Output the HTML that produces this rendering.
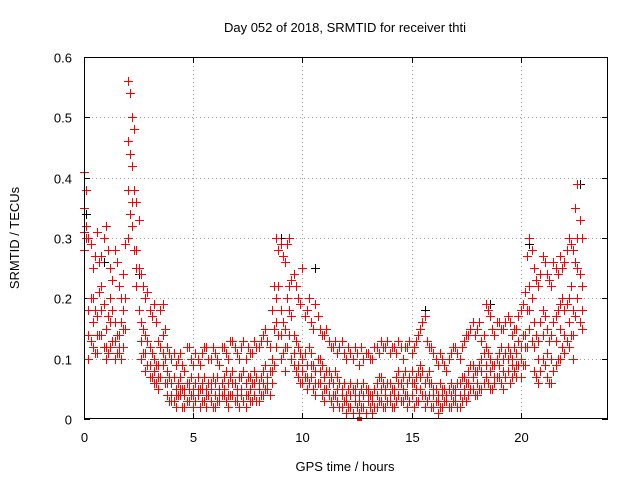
<!DOCTYPE html>
<html><head><meta charset="utf-8"><style>
body{margin:0;background:#fff;}
svg{display:block;font-family:"Liberation Sans",sans-serif;}
</style></head><body>
<svg id="chart" width="640" height="480" viewBox="0 0 640 480">
<rect width="640" height="480" fill="#fff"/>
<text x="345" y="32" font-size="13" text-anchor="middle">Day 052 of 2018, SRMTID for receiver thti</text>
<text x="0" y="0" font-size="13" text-anchor="middle" transform="translate(19,238) rotate(-90)">SRMTID / TECUs</text>
<text x="345" y="471" font-size="13" text-anchor="middle">GPS time / hours</text>
<g id="grid"></g>
<g id="axes"></g>
<g id="marks"></g>
<rect x="84.5" y="57.5" width="523" height="361" fill="none" stroke="#000" stroke-width="1" shape-rendering="crispEdges"/>
</svg>
<script>
const xTicks=[0,5,10,15,20];
const yTicks=[0,0.1,0.2,0.3,0.4,0.5,0.6];
const yTickLabels=["0","0.1","0.2","0.3","0.4","0.5","0.6"];
const times=[0,0.2,0.4,0.6,0.8,1,1.2,1.4,1.6,1.8,2,2.2,2.4,2.6,2.8,3,3.2,3.4,3.6,3.8,4,4.2,4.4,4.6,4.8,5,5.2,5.4,5.6,5.8,6,6.2,6.4,6.6,6.8,7,7.2,7.4,7.6,7.8,8,8.2,8.4,8.6,8.8,9,9.2,9.4,9.6,9.8,10,10.2,10.4,10.6,10.8,11,11.2,11.4,11.6,11.8,12,12.2,12.4,12.6,12.8,13,13.2,13.4,13.6,13.8,14,14.2,14.4,14.6,14.8,15,15.2,15.4,15.6,15.8,16,16.2,16.4,16.6,16.8,17,17.2,17.4,17.6,17.8,18,18.2,18.4,18.6,18.8,19,19.2,19.4,19.6,19.8,20,20.2,20.4,20.6,20.8,21,21.2,21.4,21.6,21.8,22,22.2,22.4,22.6,22.8];
const seriesHigh=[0.41,0.30,0.25,0.31,0.27,0.32,0.25,0.28,0.22,0.24,0.56,0.50,0.36,0.24,0.20,0.18,0.19,0.13,0.19,0.12,0.10,0.09,0.11,0.08,0.12,0.09,0.10,0.11,0.12,0.10,0.11,0.09,0.12,0.10,0.13,0.11,0.12,0.10,0.11,0.13,0.12,0.14,0.13,0.18,0.30,0.29,0.26,0.30,0.24,0.20,0.25,0.18,0.16,0.19,0.15,0.14,0.13,0.12,0.11,0.13,0.10,0.11,0.12,0.09,0.10,0.11,0.10,0.12,0.13,0.12,0.11,0.12,0.13,0.10,0.12,0.11,0.13,0.15,0.17,0.12,0.11,0.09,0.10,0.08,0.11,0.12,0.10,0.13,0.14,0.16,0.15,0.13,0.19,0.17,0.14,0.16,0.15,0.17,0.14,0.15,0.18,0.21,0.30,0.25,0.22,0.27,0.24,0.22,0.25,0.27,0.26,0.30,0.28,0.39,0.30];
const seriesMid=[0.35,0.18,0.20,0.17,0.22,0.15,0.20,0.16,0.14,0.18,0.46,0.42,0.28,0.16,0.14,0.12,0.10,0.09,0.14,0.08,0.06,0.05,0.07,0.05,0.06,0.05,0.07,0.06,0.05,0.06,0.06,0.05,0.07,0.06,0.08,0.05,0.07,0.06,0.07,0.08,0.06,0.08,0.07,0.10,0.20,0.18,0.15,0.22,0.14,0.12,0.10,0.09,0.11,0.08,0.10,0.07,0.08,0.06,0.07,0.05,0.04,0.06,0.05,0.04,0.06,0.05,0.04,0.06,0.07,0.05,0.06,0.05,0.08,0.07,0.06,0.08,0.07,0.09,0.06,0.08,0.05,0.04,0.05,0.04,0.06,0.05,0.06,0.07,0.08,0.09,0.08,0.10,0.12,0.10,0.09,0.11,0.10,0.12,0.10,0.11,0.12,0.14,0.22,0.16,0.13,0.18,0.15,0.14,0.17,0.19,0.18,0.20,0.18,0.30,0.22];
const seriesMidLow=[0.31,0.14,0.16,0.14,0.18,0.12,0.16,0.13,0.12,0.15,0.38,0.36,0.25,0.13,0.11,0.09,0.08,0.07,0.11,0.06,0.04,0.04,0.05,0.04,0.05,0.04,0.05,0.05,0.04,0.05,0.04,0.04,0.05,0.04,0.06,0.04,0.05,0.04,0.05,0.06,0.05,0.06,0.06,0.08,0.16,0.14,0.12,0.18,0.11,0.09,0.08,0.07,0.09,0.06,0.08,0.05,0.06,0.04,0.05,0.04,0.03,0.04,0.04,0.03,0.04,0.04,0.03,0.04,0.05,0.04,0.04,0.04,0.06,0.05,0.04,0.06,0.05,0.07,0.04,0.06,0.04,0.03,0.04,0.03,0.04,0.04,0.04,0.05,0.06,0.07,0.06,0.08,0.09,0.08,0.07,0.09,0.08,0.10,0.09,0.09,0.10,0.12,0.18,0.12,0.10,0.14,0.11,0.10,0.13,0.15,0.14,0.16,0.14,0.25,0.18];
const seriesLow=[0.28,0.10,0.12,0.11,0.14,0.10,0.12,0.10,0.11,0.12,0.30,0.32,0.22,0.10,0.08,0.07,0.06,0.05,0.09,0.04,0.03,0.02,0.04,0.02,0.03,0.02,0.04,0.03,0.02,0.03,0.02,0.03,0.04,0.02,0.04,0.03,0.04,0.02,0.03,0.04,0.03,0.04,0.05,0.06,0.12,0.10,0.08,0.14,0.09,0.07,0.06,0.05,0.07,0.04,0.06,0.03,0.04,0.02,0.03,0.02,0.01,0.02,0.03,0.01,0.02,0.03,0.01,0.02,0.03,0.02,0.03,0.02,0.04,0.03,0.02,0.04,0.03,0.05,0.02,0.04,0.02,0.01,0.02,0.03,0.02,0.03,0.02,0.04,0.04,0.05,0.04,0.05,0.07,0.05,0.06,0.07,0.05,0.08,0.07,0.07,0.07,0.09,0.15,0.08,0.06,0.10,0.07,0.06,0.09,0.10,0.11,0.12,0.10,0.20,0.15];
const times2=[0.1,0.3,0.5,0.7,0.9,1.1,1.3,1.5,1.7,1.9,2.1,2.3,2.5,2.7,2.9,3.1,3.3,3.5,3.7,3.9,4.1,4.3,4.5,4.7,4.9,5.1,5.3,5.5,5.7,5.9,6.1,6.3,6.5,6.7,6.9,7.1,7.3,7.5,7.7,7.9,8.1,8.3,8.5,8.7,8.9,9.1,9.3,9.5,9.7,9.9,10.1,10.3,10.5,10.7,10.9,11.1,11.3,11.5,11.7,11.9,12.1,12.3,12.5,12.7,12.9,13.1,13.3,13.5,13.7,13.9,14.1,14.3,14.5,14.7,14.9,15.1,15.3,15.5,15.7,15.9,16.1,16.3,16.5,16.7,16.9,17.1,17.3,17.5,17.7,17.9,18.1,18.3,18.5,18.7,18.9,19.1,19.3,19.5,19.7,19.9,20.1,20.3,20.5,20.7,20.9,21.1,21.3,21.5,21.7,21.9,22.1,22.3,22.5,22.7];
const series2High=[0.38,0.29,0.27,0.26,0.30,0.28,0.23,0.26,0.20,0.29,0.54,0.48,0.33,0.22,0.21,0.17,0.16,0.18,0.15,0.11,0.11,0.10,0.09,0.12,0.10,0.11,0.09,0.12,0.10,0.12,0.10,0.12,0.11,0.13,0.12,0.10,0.13,0.12,0.11,0.12,0.13,0.15,0.12,0.22,0.28,0.27,0.29,0.23,0.22,0.19,0.17,0.20,0.15,0.17,0.14,0.15,0.12,0.13,0.12,0.11,0.12,0.10,0.11,0.12,0.11,0.10,0.12,0.11,0.12,0.13,0.12,0.11,0.12,0.12,0.13,0.12,0.14,0.16,0.13,0.12,0.10,0.11,0.09,0.10,0.12,0.11,0.12,0.14,0.15,0.14,0.16,0.14,0.18,0.15,0.16,0.15,0.16,0.16,0.15,0.17,0.19,0.27,0.28,0.23,0.24,0.26,0.23,0.26,0.24,0.25,0.28,0.29,0.35,0.33];
const series2Mid=[0.32,0.20,0.18,0.21,0.19,0.17,0.18,0.14,0.16,0.20,0.44,0.38,0.25,0.15,0.13,0.11,0.09,0.12,0.10,0.07,0.07,0.06,0.05,0.06,0.07,0.06,0.05,0.07,0.06,0.07,0.07,0.06,0.08,0.07,0.06,0.07,0.08,0.07,0.06,0.07,0.07,0.09,0.08,0.15,0.22,0.16,0.20,0.17,0.13,0.11,0.11,0.12,0.09,0.10,0.09,0.08,0.07,0.08,0.06,0.06,0.05,0.05,0.06,0.05,0.05,0.04,0.05,0.07,0.06,0.06,0.05,0.07,0.06,0.08,0.07,0.06,0.08,0.08,0.07,0.06,0.05,0.06,0.05,0.05,0.05,0.06,0.07,0.06,0.09,0.08,0.09,0.11,0.11,0.09,0.10,0.12,0.11,0.11,0.12,0.13,0.14,0.18,0.20,0.14,0.16,0.17,0.13,0.16,0.18,0.20,0.19,0.22,0.26,0.24];
const series2Low=[0.30,0.13,0.11,0.14,0.12,0.11,0.13,0.11,0.10,0.15,0.34,0.28,0.18,0.11,0.09,0.07,0.06,0.07,0.06,0.03,0.03,0.04,0.02,0.03,0.04,0.03,0.02,0.03,0.04,0.02,0.03,0.04,0.03,0.04,0.03,0.02,0.03,0.04,0.03,0.03,0.04,0.05,0.04,0.09,0.14,0.11,0.12,0.10,0.08,0.06,0.07,0.06,0.05,0.06,0.04,0.05,0.03,0.04,0.02,0.03,0.02,0.01,0.02,0.02,0.01,0.02,0.02,0.03,0.02,0.03,0.02,0.03,0.03,0.04,0.03,0.02,0.03,0.04,0.03,0.02,0.03,0.02,0.03,0.02,0.03,0.02,0.03,0.03,0.05,0.04,0.05,0.06,0.06,0.05,0.07,0.06,0.07,0.06,0.08,0.09,0.09,0.12,0.13,0.07,0.08,0.09,0.06,0.08,0.10,0.12,0.13,0.14,0.17,0.16];
const blackTimes=[0.1,0.9,2.5,9.0,10.6,15.6,18.6,20.4,22.7];
const blackValues=[0.34,0.26,0.24,0.30,0.25,0.18,0.19,0.29,0.39];

const NS="http://www.w3.org/2000/svg";
const X0=84,X1=608,Y0=419,Y1=57,XMAX=24,YMAX=0.6;
function xs(t){return X0+(t/XMAX)*(X1-X0);}
function ys(v){return Y0-(v/YMAX)*(Y0-Y1);}
const grid=document.getElementById('grid'),axes=document.getElementById('axes'),marks=document.getElementById('marks');
function mk(tag,attrs,parent){const e=document.createElementNS(NS,tag);for(const k in attrs)e.setAttribute(k,attrs[k]);parent.appendChild(e);return e;}
xTicks.forEach(t=>{
  const x=Math.round(xs(t))+0.5;
  if(t>0){const g=mk('line',{x1:x,x2:x,y1:Y0,y2:Y1,stroke:'#a0a0a0','stroke-dasharray':'1,3'},grid);
  
  }
  const tk=mk('line',{x1:x,x2:x,y1:Y0,y2:Y0-6,stroke:'#000'},axes);
  
  
  const tk2=mk('line',{x1:x,x2:x,y1:Y1,y2:Y1+6,stroke:'#000'},axes);
  
  
  const l=mk('text',{x:x,y:Y0+23,'font-size':13,'text-anchor':'middle'},axes);l.textContent=String(t);
  
  
});
yTicks.forEach((v,i)=>{
  const y=Math.round(ys(v))+0.5;
  if(v>0&&v<YMAX){const g=mk('line',{x1:X0,x2:X1,y1:y,y2:y,stroke:'#a0a0a0','stroke-dasharray':'1,3'},grid);
  
  }
  const tk=mk('line',{x1:X0,x2:X0+6,y1:y,y2:y,stroke:'#000'},axes);
  
  
  const tk2=mk('line',{x1:X1,x2:X1-6,y1:y,y2:y,stroke:'#000'},axes);
  
  
  const l=mk('text',{x:X0-12,y:y+5,'font-size':13,'text-anchor':'end'},axes);l.textContent=yTickLabels[i];
  
  
});
function plus(t,v,color,name){
  const x=Math.round(xs(t)),y=Math.round(ys(v));
  const p=mk('path',{d:`M${x-4},${y}h9v1h-9zM${x},${y-4}h1v9h-1z`,fill:color},marks);
  
  
}
blackTimes.forEach((t,i)=>plus(t,blackValues[i],'#000000','black-point'));
[seriesHigh,seriesMid,seriesMidLow,seriesLow].forEach(s=>times.forEach((t,i)=>plus(t,s[i],'#ff0000','red-point')));
[series2High,series2Mid,series2Low].forEach(s=>times2.forEach((t,i)=>plus(t,s[i],'#ff0000','red-point')));
const sq=mk('rect',{x:Math.round(xs(12.6))-2,y:Y0-2,width:5,height:4,fill:'#ff0000'},marks);


</script>
</body></html>
